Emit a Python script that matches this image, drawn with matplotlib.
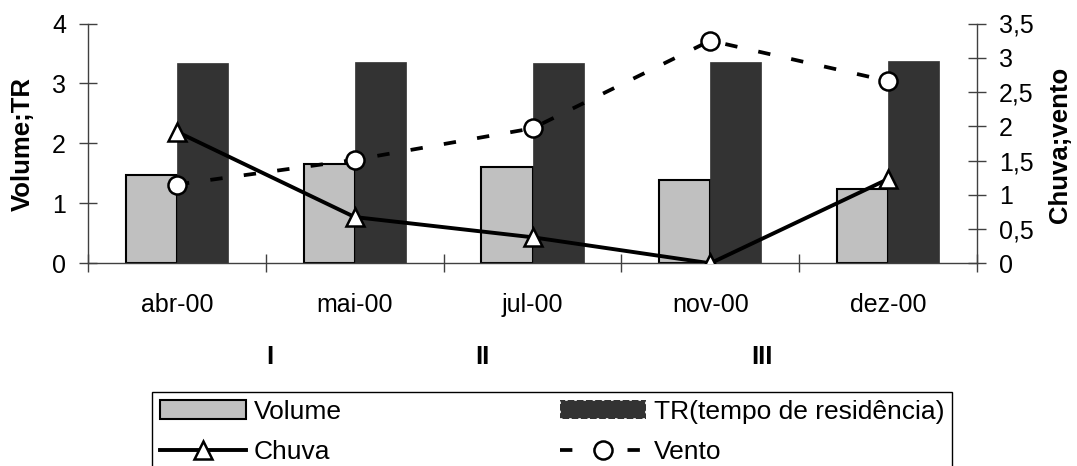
import matplotlib
matplotlib.use('Agg')
import matplotlib.pyplot as plt
import matplotlib.patches as mpatches
from matplotlib.ticker import FuncFormatter, FixedLocator

plt.rcParams['font.family'] = ['Liberation Sans', 'DejaVu Sans']
plt.rcParams['font.size'] = 18

# dados mensais
meses = ['abr-00', 'mai-00', 'jul-00', 'nov-00', 'dez-00']
volume = [1.47, 1.65, 1.60, 1.39, 1.24]
tr = [3.34, 3.36, 3.34, 3.36, 3.38]
chuva = [1.92, 0.675, 0.38, 0.0, 1.23]
vento = [1.15, 1.51, 1.97, 3.25, 2.66]

# periodos marcados abaixo do eixo x
periodos = ['I', 'II', 'III']
periodos_x = [0.52, 1.72, 3.29]

cinza_claro = '#c0c0c0'
cinza_escuro = '#333333'
cor_eixo = '#404040'

fig = plt.figure(figsize=(10.77, 4.66), dpi=100)
ax = fig.add_axes([88 / 1077, 1 - 263.3 / 466, 889 / 1077, 239.8 / 466])
ax2 = ax.twinx()

x = list(range(len(meses)))
w = 0.287
barras_vol = ax.bar([i - w / 2 for i in x], volume, w, color=cinza_claro,
                    edgecolor='black', linewidth=1.5, zorder=2)
ax.bar([i + w / 2 for i in x], tr, w, color=cinza_escuro,
       edgecolor=cinza_escuro, linewidth=0.5, zorder=2)

l_chuva, = ax2.plot(x, chuva, color='black', lw=2.8, marker='^', ms=13,
                    mfc='white', mec='black', mew=1.8)
l_vento, = ax2.plot(x, vento, color='black', lw=2.7, ls=(0, (3.3, 5.7)),
                    marker='o', ms=13, mfc='white', mec='black', mew=1.8)

ax.set_xlim(-0.5, 4.5)
ax.set_ylim(0, 4)
ax2.set_ylim(0, 3.5)

# eixo x: rotulos no centro, marcas nos limites das categorias
ax.xaxis.set_major_locator(FixedLocator(x))
ax.set_xticklabels(meses)
ax.xaxis.set_minor_locator(FixedLocator([i - 0.5 for i in range(len(meses) + 1)]))
ax.tick_params(axis='x', which='major', length=0, pad=21.5)
ax.tick_params(axis='x', which='minor', direction='inout', length=13,
               width=1, color=cor_eixo)

ax.set_yticks([0, 1, 2, 3, 4])
ax.tick_params(axis='y', direction='inout', length=13, width=1,
               color=cor_eixo, pad=9.4)
ax2.set_yticks([0, 0.5, 1, 1.5, 2, 2.5, 3, 3.5])
ax2.yaxis.set_major_formatter(FuncFormatter(lambda v, p: f'{v:g}'.replace('.', ',')))
ax2.tick_params(axis='y', direction='inout', length=13, width=1,
                color=cor_eixo, pad=9.4)

for a in (ax, ax2):
    a.spines['top'].set_visible(False)
    for s in ('left', 'right', 'bottom'):
        a.spines[s].set_color(cor_eixo)
        a.spines[s].set_linewidth(1)
ax.spines['right'].set_visible(False)
ax2.spines['left'].set_visible(False)
ax2.spines['bottom'].set_visible(False)

fig.text(23 / 1077, 1 - 144 / 466, 'Volume;TR', rotation=90, ha='center',
         va='center', fontweight='bold', fontsize=18.5)
fig.text(1060 / 1077, 1 - 144.5 / 466, 'Chuva;vento', rotation=90, ha='center',
         va='center', fontweight='bold', fontsize=18.5)

for px, nome in zip(periodos_x, periodos):
    ax.text(px, -0.39, nome, transform=ax.get_xaxis_transform(), ha='center',
            va='center', fontweight='bold', fontsize=18.5)

# legenda (a borda inferior fica fora da figura)
patch_tr = mpatches.Patch(facecolor=cinza_escuro, edgecolor='white',
                          linestyle=(0, (1.5, 4)), linewidth=1.2)
leg = fig.legend([barras_vol, l_chuva, patch_tr, l_vento],
                 ['Volume', 'Chuva', 'TR(tempo de residência)', 'Vento'],
                 ncol=2, loc='upper left',
                 bbox_to_anchor=(152 / 1077, 1 - 392 / 466),
                 bbox_transform=fig.transFigure, frameon=True, fancybox=False,
                 edgecolor='black', framealpha=1, borderpad=0.3,
                 handlelength=3.26, handletextpad=0.3, columnspacing=8.26,
                 labelspacing=0.6, borderaxespad=0, fontsize=19)
leg.get_frame().set_linewidth(1)

fig.savefig('out.png', dpi=100)
